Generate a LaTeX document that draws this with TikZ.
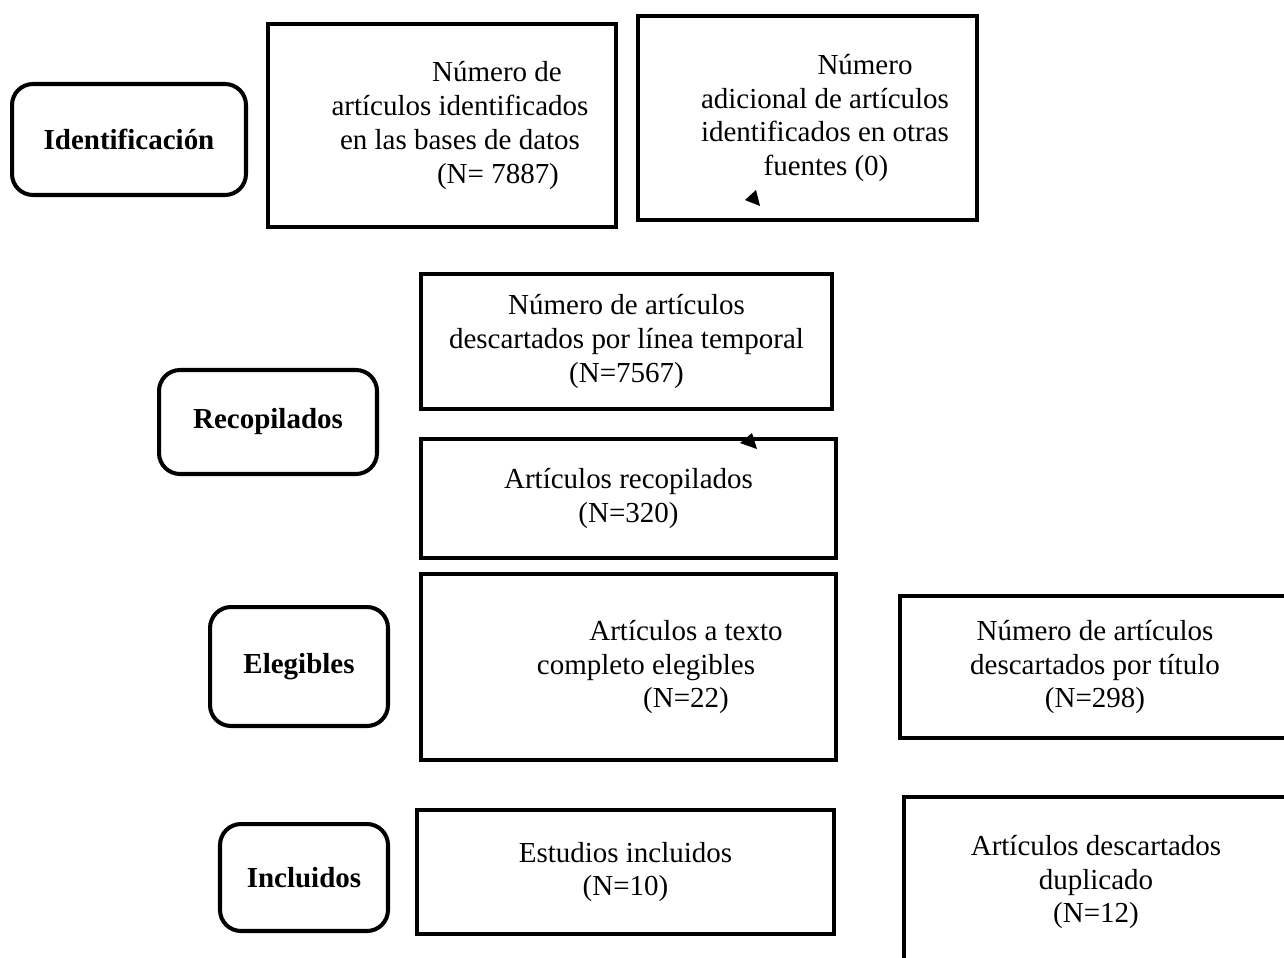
\documentclass[tikz,border=0pt]{standalone}
\usepackage{fontspec}
\setmainfont{Liberation Serif}
\usepackage{tikz}
\usetikzlibrary{positioning}

\begin{document}
\begin{tikzpicture}[
  x=0.02cm, y=-0.02cm,
  box/.style={draw, line width=2.3pt, align=center, inner sep=2pt, font=\fontsize{16.5}{19.3}\selectfont},
  stage/.style={box, rounded corners=0.42cm, font=\bfseries\fontsize{16.5}{19.3}\selectfont}
]
  \useasboundingbox (0,0) rectangle (1284,957);
  \clip (0,0) rectangle (1284,957);

  % stages
  \node[stage, minimum width=4.68cm, minimum height=2.22cm] (ident) at (129,139.5) {Identificación};
  \node[stage, minimum width=4.36cm, minimum height=2.08cm] (recop) at (268,422) {Recopilados};
  \node[stage, minimum width=3.56cm, minimum height=2.38cm] (eleg) at (299,666.5) {Elegibles};
  \node[stage, minimum width=3.36cm, minimum height=2.14cm] (incl) at (304,877.5) {Incluidos};

  % identification
  \node[box, minimum width=6.96cm, minimum height=4.06cm] (bases) at (442,125.5)
    {\hspace*{2.2cm}Número de\\\hspace*{0.72cm}artículos identificados\\\hspace*{0.72cm}en las bases de datos\\\hspace*{2.24cm}(N= 7887)};
  \node[box, minimum width=6.78cm, minimum height=4.08cm] (otras) at (807.5,118)
    {\hspace*{2.3cm}Número\\\hspace*{0.7cm}adicional de artículos\\\hspace*{0.7cm}identificados en otras\\\hspace*{0.74cm}fuentes (0)};

  % screening
  \node[box, minimum width=8.22cm, minimum height=2.70cm] (temporal) at (626.5,341.5)
    {Número de artículos\\descartados por línea temporal\\(N=7567)};
  \node[box, minimum width=8.30cm, minimum height=2.38cm] (recopart) at (628.5,498.5)
    {Artículos recopilados\\(N=320)};

  % eligibility
  \node[box, minimum width=8.30cm, minimum height=3.72cm] (texto) at (628.5,667)
    {\hspace*{2.3cm}Artículos a texto\\\hspace*{0.7cm}completo elegibles\\\hspace*{2.3cm}(N=22)};
  \node[box, minimum width=7.80cm, minimum height=2.84cm] (titulo) at (1095,667)
    {Número de artículos\\descartados por título\\(N=298)};

  % included
  \node[box, minimum width=8.34cm, minimum height=2.48cm] (estudios) at (625.5,872)
    {Estudios incluidos\\(N=10)};
  \node[box, minimum width=7.68cm, minimum height=3.40cm] (duplic) at (1096,882)
    {Artículos descartados\\duplicado\\(N=12)};

  % loose arrow tips
  \fill (745,200) -- (760,206) -- (756,190) -- cycle;
  \fill (740,443) -- (757,449) -- (752,433) -- cycle;
\end{tikzpicture}
\end{document}
